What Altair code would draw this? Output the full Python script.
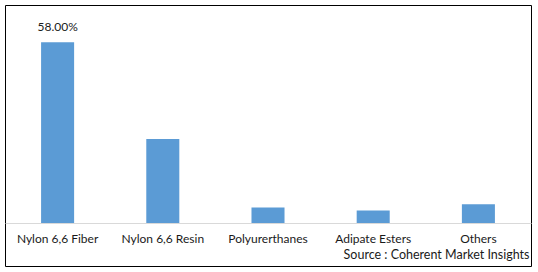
import altair as alt
import pandas as pd

categories = ["Nylon 6,6 Fiber", "Nylon 6,6 Resin", "Polyurerthanes", "Adipate Esters", "Others"]
shares = [58.0, 27.0, 5.0, 4.0, 6.0]
labels = ["58.00%", "", "", "", ""]
source_note = "Source : Coherent Market Insights"

df = pd.DataFrame({"category": categories, "share": shares, "label": labels})

FONT = "Lato"
TEXT = "#1a1a1a"

x = alt.X(
    "category:N",
    sort=categories,
    scale=alt.Scale(paddingInner=0.686, paddingOuter=0.343),
    axis=alt.Axis(
        orient="bottom",
        offset=-43,
        title=source_note,
        titleAnchor="end",
        titleAlign="right",
        titleX=524,
        titleFontWeight="normal",
        titleFont=FONT,
        titleFontSize=12.5,
        titleColor=TEXT,
        titlePadding=4,
        labelAngle=0,
        labelFont=FONT,
        labelFontSize=12,
        labelColor=TEXT,
        labelPadding=10,
        ticks=False,
        domainColor="#d9d9d9",
        domainWidth=1,
    ),
)
y = alt.Y(
    "share:Q",
    scale=alt.Scale(domain=[0, 70], range=[218, 0], nice=False),
    axis=None,
)

bars = alt.Chart(df).mark_bar(color="#5b9bd5").encode(x=x, y=y)
text = alt.Chart(df).mark_text(
    baseline="bottom", dy=-8, font=FONT, fontSize=12, color=TEXT
).encode(x=x, y=y, text="label:N")

chart = (
    alt.layer(bars, text)
    .properties(
        width=526,
        height=261,
        padding={"left": 5, "top": 5, "right": 7, "bottom": 6},
        autosize=alt.AutoSizeParams(type="none"),
        background="white",
    )
    .configure_view(stroke="#000000", strokeWidth=1)
)

chart.save("out.html", embed_options={"renderer": "svg", "actions": False})
